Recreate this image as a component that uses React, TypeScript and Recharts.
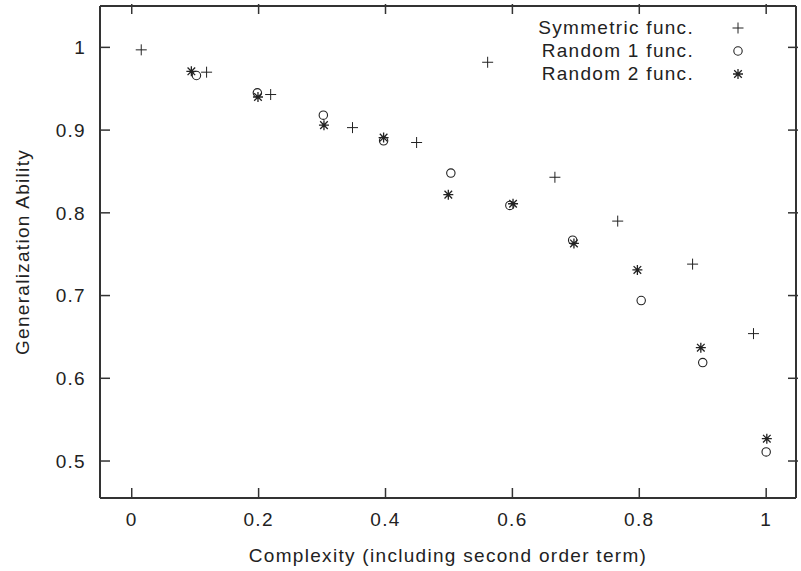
import React from "react";
import { ScatterChart, Scatter, XAxis, YAxis, Legend, Label } from "recharts";

// Complexity (x) and generalization ability (y) per function family
const symX = [0.015, 0.118, 0.219, 0.348, 0.449, 0.561, 0.667, 0.766, 0.884, 0.98];
const symY = [0.997, 0.97, 0.943, 0.903, 0.885, 0.982, 0.843, 0.79, 0.738, 0.654];
const rnd1X = [0.102, 0.198, 0.302, 0.397, 0.503, 0.596, 0.695, 0.803, 0.9, 1.0];
const rnd1Y = [0.966, 0.945, 0.918, 0.887, 0.848, 0.809, 0.767, 0.694, 0.619, 0.511];
const rnd2X = [0.094, 0.199, 0.303, 0.397, 0.499, 0.601, 0.697, 0.797, 0.897, 1.001];
const rnd2Y = [0.971, 0.94, 0.906, 0.891, 0.822, 0.811, 0.763, 0.731, 0.637, 0.527];

const seriesNames = ["Symmetric func.", "Random 1 func.", "Random 2 func."];
const xTicks = [0, 0.2, 0.4, 0.6, 0.8, 1];
const yTicks = [0.5, 0.6, 0.7, 0.8, 0.9, 1];

const toPoints = (xs: number[], ys: number[]) => xs.map((x, i) => ({ x, y: ys[i] }));

const FONT = "'Liberation Sans', Arial, sans-serif";
const INK = "#222";
const AXIS = "#333";
const TICK_LEN = 10;
const textStyle = { fontSize: 19, fontFamily: FONT, letterSpacing: 1.3 };

// gnuplot-style ticks: labels outside, tick marks pointing into the plot
const BottomTick = ({ x, y, payload }: any) => (
  <g>
    <line x1={x} x2={x} y1={y - 15} y2={y - 15 - TICK_LEN} stroke={AXIS} strokeWidth={1.5} />
    <text x={x} y={y} dy="0.71em" textAnchor="middle" fill={INK} style={textStyle}>
      {String(payload.value)}
    </text>
  </g>
);
const LeftTick = ({ x, y, payload }: any) => (
  <g>
    <line x1={x + 14} x2={x + 14 + TICK_LEN} y1={y} y2={y} stroke={AXIS} strokeWidth={1.5} />
    <text x={x} y={y} dy="0.355em" textAnchor="end" fill={INK} style={textStyle}>
      {String(payload.value)}
    </text>
  </g>
);
const TopTick = ({ x, y }: any) => (
  <line x1={x} x2={x} y1={y} y2={y + TICK_LEN} stroke={AXIS} strokeWidth={1.5} />
);
const RightTick = ({ x, y }: any) => (
  <line x1={x} x2={x - TICK_LEN} y1={y} y2={y} stroke={AXIS} strokeWidth={1.5} />
);

const Plus = ({ cx, cy }: any) => (
  <path d={`M${cx - 5.5},${cy}H${cx + 5.5}M${cx},${cy - 5.5}V${cy + 5.5}`} stroke={INK} strokeWidth={1} fill="none" />
);
const Ring = ({ cx, cy }: any) => (
  <circle cx={cx} cy={cy} r={4.2} stroke={INK} strokeWidth={1.1} fill="none" />
);
const Star = ({ cx, cy }: any) => (
  <path
    d={`M${cx - 5},${cy}H${cx + 5}M${cx},${cy - 5}V${cy + 5}M${cx - 3.8},${cy - 3.8}L${cx + 3.8},${cy + 3.8}M${cx - 3.8},${cy + 3.8}L${cx + 3.8},${cy - 3.8}`}
    stroke={INK}
    strokeWidth={1.3}
    fill="none"
  />
);
const markers = [Plus, Ring, Star];

const renderLegend = () => (
  <div style={{ ...textStyle, color: INK }}>
    {seriesNames.map((name, i) => {
      const M = markers[i];
      return (
        <div key={name} style={{ display: "flex", alignItems: "center", height: 22.7 }}>
          <span style={{ width: 180, textAlign: "right", whiteSpace: "nowrap" }}>{name}</span>
          <svg width={88} height={22}>
            <M cx={44} cy={11} />
          </svg>
        </div>
      );
    })}
  </div>
);

const X_DOMAIN: [number, number] = [-0.05, 1.047];
const Y_DOMAIN: [number, number] = [0.4553, 1.05];

export default function App() {
  return (
    <div style={{ position: "absolute", left: 0, top: 0, width: 801, height: 571, background: "#fff" }}>
      <ScatterChart width={801} height={571} margin={{ top: 5, right: 4, bottom: 0, left: 0 }}>
        <XAxis
          xAxisId="b"
          type="number"
          dataKey="x"
          domain={X_DOMAIN}
          ticks={xTicks}
          allowDataOverflow
          height={73}
          tickSize={0}
          tickMargin={15}
          tick={BottomTick}
          tickLine={false}
          axisLine={{ stroke: AXIS, strokeWidth: 2 }}
        >
          <Label
            value="Complexity (including second order term)"
            position="insideBottom"
            offset={9}
            fill={INK}
            style={textStyle}
          />
        </XAxis>
        <XAxis
          xAxisId="t"
          orientation="top"
          type="number"
          dataKey="x"
          domain={X_DOMAIN}
          ticks={xTicks}
          allowDataOverflow
          height={1}
          tickSize={0}
          tick={TopTick}
          tickLine={false}
          axisLine={{ stroke: AXIS, strokeWidth: 2 }}
        />
        <YAxis
          yAxisId="l"
          type="number"
          dataKey="y"
          domain={Y_DOMAIN}
          ticks={yTicks}
          allowDataOverflow
          width={100}
          tickSize={0}
          tickMargin={14}
          tick={LeftTick}
          tickLine={false}
          axisLine={{ stroke: AXIS, strokeWidth: 2 }}
        >
          <Label
            value="Generalization Ability"
            angle={-90}
            position="insideLeft"
            offset={22}
            fill={INK}
            style={{ ...textStyle, textAnchor: "middle" }}
          />
        </YAxis>
        <YAxis
          yAxisId="r"
          orientation="right"
          type="number"
          dataKey="y"
          domain={Y_DOMAIN}
          ticks={yTicks}
          allowDataOverflow
          width={1}
          tickSize={0}
          tick={RightTick}
          tickLine={false}
          axisLine={{ stroke: AXIS, strokeWidth: 2 }}
        />
        <Legend
          content={renderLegend}
          layout="horizontal"
          verticalAlign="middle"
          align="center"
          wrapperStyle={{ position: "absolute", left: 514, top: 17, width: 270 }}
        />
        <Scatter
          name={seriesNames[0]}
          xAxisId="b"
          yAxisId="l"
          data={toPoints(symX, symY)}
          shape={(p: any) => <Plus cx={p.cx} cy={p.cy} />}
          isAnimationActive={false}
        />
        <Scatter
          name={seriesNames[1]}
          xAxisId="b"
          yAxisId="l"
          data={toPoints(rnd1X, rnd1Y)}
          shape={(p: any) => <Ring cx={p.cx} cy={p.cy} />}
          isAnimationActive={false}
        />
        <Scatter
          name={seriesNames[2]}
          xAxisId="b"
          yAxisId="l"
          data={toPoints(rnd2X, rnd2Y)}
          shape={(p: any) => <Star cx={p.cx} cy={p.cy} />}
          isAnimationActive={false}
        />
        {/* invisible series so the mirrored top/right axes get drawn */}
        <Scatter
          xAxisId="t"
          yAxisId="r"
          data={toPoints(symX, symY)}
          shape={() => <g />}
          legendType="none"
          isAnimationActive={false}
        />
      </ScatterChart>
    </div>
  );
}
